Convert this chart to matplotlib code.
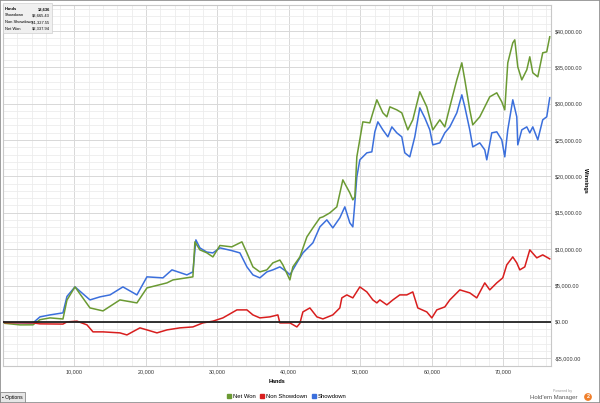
import matplotlib
matplotlib.use('Agg')
import matplotlib.pyplot as plt
from matplotlib.ticker import MultipleLocator, FuncFormatter
from matplotlib.patches import Rectangle
from matplotlib.lines import Line2D

plt.rcParams['font.family'] = ['Liberation Sans', 'DejaVu Sans']

# hands in thousands, winnings in thousands of dollars
net_hands = [0, 0.28, 2.38, 4.2, 5.17, 6.57, 8.39, 8.95, 10.07, 12.17, 13.99, 16.36, 18.74, 20.14,
             22.94, 23.78, 26.57, 26.85, 27.55, 28.5, 29.37, 30.35, 32.0, 33.43, 34.13, 34.97,
             35.94, 36.92, 37.76, 38.74, 39.16, 40.14, 40.56, 41.54, 42.52, 43.36, 44.34, 44.76,
             45.73, 46.71, 47.55, 48.53, 48.95, 49.23, 49.51, 50.35, 51.33, 51.75, 52.31, 53.15,
             53.71, 54.13, 55.10, 55.80, 56.64, 57.34, 58.32, 59.30, 60.14, 61.12, 61.82, 62.52,
             63.50, 64.20, 64.62, 65.31, 65.73, 66.71, 67.41, 68.11, 69.09, 69.79, 70.21, 70.63,
             71.33, 71.61, 72.03, 72.59, 73.29, 73.71, 74.13, 74.83, 75.52, 76.08, 76.50]
net_won = [0, -0.2, -0.41, -0.4, 0.3, 0.55, 0.4, 3.0, 4.81, 1.92, 1.51, 3.02, 2.61, 4.67,
           5.36, 5.77, 6.19, 11.0, 9.9, 9.5, 8.93, 10.5, 10.31, 11.0, 9.48, 7.56,
           6.87, 7.15, 8.11, 8.5, 7.84, 5.77, 7.56, 8.93, 11.68, 12.92, 14.3, 14.43,
           14.98, 15.81, 19.52, 17.73, 16.77, 17.18, 22.68, 27.49, 27.35, 28.73, 30.52, 28.73,
           28.18, 29.55, 29.14, 28.73, 26.39, 27.77, 31.62, 29.55, 26.39, 27.77, 26.8, 29.55,
           33.26, 35.60, 33.26, 29.14, 27.08, 28.18, 29.55, 30.93, 31.48, 30.24, 29.14, 35.60,
           38.35, 38.76, 35.05, 33.26, 34.64, 36.43, 34.23, 33.68, 36.98, 37.11, 39.18]

sd_hands = [0, 0.28, 4.2, 5.17, 6.57, 8.39, 8.95, 10.07, 12.17, 13.57, 14.97, 16.78, 18.74, 20.14,
            22.38, 23.64, 25.73, 26.57, 26.99, 27.55, 28.5, 29.37, 30.35, 32.0, 33.15, 34.13,
            34.97, 35.94, 36.92, 37.76, 38.74, 39.72, 40.14, 41.12, 41.96, 43.36, 44.34, 45.31,
            46.15, 47.13, 47.83, 48.53, 48.95, 49.23, 49.51, 49.93, 50.91, 51.61, 52.03, 52.45,
            53.15, 53.85, 54.41, 55.10, 55.80, 56.22, 56.92, 57.62, 58.32, 59.02, 59.72, 60.14,
            61.12, 61.82, 62.52, 63.50, 64.20, 64.62, 65.31, 65.73, 66.71, 67.41, 67.69, 68.39,
            69.09, 69.79, 70.21, 70.63, 71.33, 71.89, 72.03, 72.59, 73.29, 73.71, 74.13, 74.83,
            75.52, 76.08, 76.50]
sd_won = [0, -0.1, -0.14, 0.69, 0.96, 1.24, 3.5, 4.81, 3.02, 3.44, 3.71, 4.81, 3.71, 6.19,
          6.05, 7.15, 6.46, 6.87, 11.27, 10.17, 9.6, 9.48, 10.17, 9.8, 9.48, 7.56,
          6.46, 6.05, 6.87, 7.15, 7.56, 6.87, 6.46, 8.11, 9.48, 10.86, 13.06, 14.02,
          12.92, 14.3, 15.81, 13.61, 13.06, 16.36, 19.93, 22.27, 23.23, 23.37, 26.12, 27.49,
          26.39, 25.43, 26.80, 25.98, 25.43, 23.23, 22.68, 25.43, 29.42, 28.04, 26.39, 24.33,
          24.60, 25.98, 26.80, 28.73, 31.20, 29.55, 26.39, 24.05, 24.60, 23.64, 22.27, 25.98,
          26.12, 25.02, 22.68, 26.39, 30.52, 28.18, 24.33, 26.39, 26.80, 25.98, 26.80, 25.02,
          27.77, 28.18, 30.79]

nsd_hands = [0, 0.28, 4.2, 5.17, 8.39, 8.95, 10.35, 11.75, 12.59, 13.99, 16.36, 17.34, 19.16, 20.14,
             21.54, 22.94, 24.76, 26.57, 27.97, 29.37, 30.77, 32.73, 34.13, 34.97, 35.94, 37.34,
             38.46, 38.74, 40.14, 41.12, 41.54, 41.96, 42.94, 43.92, 44.76, 46.15, 47.13, 47.41,
             48.11, 48.95, 49.93, 50.91, 51.75, 52.31, 52.73, 53.71, 54.55, 55.52, 56.50, 57.34,
             58.04, 59.30, 60.00, 60.70, 61.82, 62.52, 63.92, 65.31, 66.29, 67.41, 68.11, 69.09,
             69.93, 70.49, 71.33, 71.89, 72.31, 73.01, 73.71, 74.69, 75.52, 76.50]
nsd_won = [0, -0.1, -0.14, -0.27, -0.3, 0.0, 0.1, -0.41, -1.37, -1.37, -1.51, -1.79, -0.82, -1.10,
           -1.51, -1.10, -0.82, -0.69, -0.14, 0.1, 0.55, 1.65, 1.65, 0.96, 0.55, 0.69,
           0.96, -0.14, -0.14, -0.69, -0.2, 1.37, 1.92, 0.69, 0.41, 0.96, 1.92, 3.30,
           3.71, 3.30, 4.81, 4.12, 3.02, 2.61, 3.02, 2.34, 3.02, 3.71, 3.71, 4.12,
           1.92, 1.37, 0.55, 1.65, 2.06, 3.02, 4.40, 3.99, 3.30, 5.36, 4.40, 5.36,
           6.05, 7.84, 8.93, 8.11, 7.15, 7.56, 9.90, 8.80, 9.21, 8.66]

summary_rows = [("Hands", "18,636"), ("Showdown", "$3,665.43"),
                ("Non Showdown", "-$1,327.55"), ("Net Won", "$2,337.94")]

GREEN = '#6b9a33'
RED = '#d81e1e'
BLUE = '#3b6fdc'


def money(v, pos=None):
    if v < 0:
        return "-${:,.2f}".format(-v)
    return "${:,.2f}".format(v)


def hands_fmt(v, pos=None):
    return "" if v <= 0 else "{:,.0f}".format(v)


fig = plt.figure(figsize=(6, 4.03), dpi=100)
ax = fig.add_axes([0.005, 0.092, 0.913, 0.896])

k = 1000
ax.plot([h * k for h in sd_hands], [w * k for w in sd_won], color=BLUE, lw=1.1, zorder=3)
ax.plot([h * k for h in net_hands], [w * k for w in net_won], color=GREEN, lw=1.1, zorder=4)
ax.plot([h * k for h in nsd_hands], [w * k for w in nsd_won], color=RED, lw=1.1, zorder=4)
ax.axhline(0, color='#222222', lw=1.3, zorder=5)

ax.set_xlim(0, 76650)
ax.set_ylim(-6050, 43570)
ax.xaxis.set_major_locator(MultipleLocator(10000))
ax.xaxis.set_minor_locator(MultipleLocator(2000))
ax.yaxis.set_major_locator(MultipleLocator(5000))
ax.yaxis.set_minor_locator(MultipleLocator(1000))
ax.xaxis.set_major_formatter(FuncFormatter(hands_fmt))
ax.yaxis.set_major_formatter(FuncFormatter(money))
ax.yaxis.tick_right()
ax.tick_params(which='both', length=0, labelsize=3.9, colors='#333333')
ax.tick_params(axis='y', pad=3)
ax.tick_params(axis='x', pad=2.5)
ax.grid(which='major', color='#d8d8d8', lw=0.7)
ax.grid(which='minor', color='#ececec', lw=0.6)
ax.set_axisbelow(True)
for s in ax.spines.values():
    s.set_color('#c8c8c8')
    s.set_linewidth(0.8)

fig.text(0.976, 0.553, 'Winnings', rotation=-90, fontsize=4.0, fontweight='bold',
         ha='center', va='center')
fig.text(0.462, 0.054, 'Hands', fontsize=4.0, fontweight='bold', ha='center', va='center')

handles = [Line2D([], [], ls='none', marker='s', ms=2.5, color=c) for c in (GREEN, RED, BLUE)]
fig.legend(handles, ['Net Won', 'Non Showdown', 'Showdown'], loc='center',
           bbox_to_anchor=(0.478, 0.015), ncol=3, frameon=False, fontsize=4.2,
           handlelength=0.6, handletextpad=0.3, columnspacing=0.9)

# summary box top left
fig.patches.append(Rectangle((3 / 600, 1 - 33 / 403), 49 / 600, 30 / 403, transform=fig.transFigure,
                             fc='#f0f0f0', ec='#cfcfcf', lw=0.5, zorder=6))
for i, (lab, val) in enumerate(summary_rows):
    yy = 1 - (9 + i * 6.5) / 403
    wt = 'bold' if i == 0 else 'normal'
    fig.text(5 / 600, yy, lab, fontsize=2.9, fontweight=wt, va='center', ha='left', zorder=7)
    fig.text(50 / 600, yy, val, fontsize=2.9, fontweight=wt, va='center', ha='right', zorder=7)

# options button and branding
fig.patches.append(Rectangle((0, 0), 25 / 600, 11 / 403, transform=fig.transFigure,
                             fc='#e6e6e6', ec='#8a8a8a', lw=0.6, zorder=6))
fig.text(2 / 600, 5.5 / 403, u'\u25aa Options', fontsize=3.6, va='center', ha='left', zorder=7)
fig.text(0.953, 1 - 391 / 403, 'Powered by', fontsize=2.6, color='#9a9a9a', ha='right', va='center')
fig.text(0.962, 1 - 398 / 403, "Hold'em Manager", fontsize=4.3, color='#555555', ha='right', va='center')
fig.text(0.98, 1 - 397 / 403, '2', fontsize=4, color='white', fontweight='bold', ha='center', va='center',
         bbox=dict(boxstyle='circle,pad=0.25', fc='#f07f2a', ec='none'))

fig.patches.append(Rectangle((0, 0), 1, 1, transform=fig.transFigure, fill=False,
                             ec='#8c8c8c', lw=1.2, zorder=8))

fig.savefig('out.png', dpi=100)
